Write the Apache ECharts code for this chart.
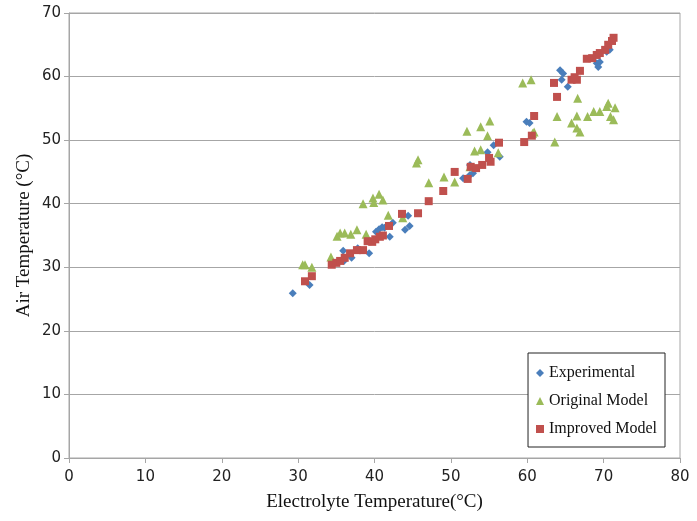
<!DOCTYPE html>
<html>
<head>
<meta charset="utf-8">
<script src="https://cdn.jsdelivr.net/npm/echarts@6/dist/echarts.min.js"></script>
<style>
  html, body { margin: 0; padding: 0; background: #fff; }
  #main { width: 697px; height: 521px; }
</style>
</head>
<body>
<div id="main"></div>
<script>
// values: [electrolyte temp, air temp]
var experimental = [
  [29.3, 25.9], [31.5, 27.2], [34.6, 30.6], [35.3, 31.0], [35.9, 32.6], [36.0, 31.0],
  [37.0, 31.5], [37.8, 33.0], [39.3, 32.2], [40.2, 35.6], [40.6, 36.0], [41.0, 36.3],
  [41.3, 36.2], [42.0, 34.8], [42.4, 37.0], [44.0, 35.9], [44.6, 36.5], [44.4, 38.1],
  [51.6, 44.0], [52.5, 44.5], [52.9, 44.8], [52.5, 46.1], [54.8, 48.1], [55.6, 49.2],
  [56.4, 47.4], [59.9, 52.9], [60.3, 52.7], [64.3, 61.0], [64.7, 60.5], [64.5, 59.5],
  [65.3, 58.4], [69.1, 62.1], [69.5, 62.3], [69.3, 61.5], [70.4, 63.9], [70.8, 64.2]
];
var originalModel = [
  [30.6, 30.4], [30.9, 30.4], [31.8, 30.0], [34.3, 31.6], [35.1, 34.9], [35.5, 35.4],
  [36.1, 35.4], [36.9, 35.2], [37.7, 35.9], [38.9, 35.2], [38.5, 40.0], [39.8, 40.9],
  [39.9, 40.2], [40.6, 41.5], [41.1, 40.6], [41.8, 38.2], [43.7, 37.8], [45.5, 46.4],
  [45.7, 46.9], [47.1, 43.3], [49.1, 44.2], [50.5, 43.4], [52.1, 51.4], [53.9, 52.1],
  [55.1, 53.0], [54.8, 50.7], [53.1, 48.3], [53.9, 48.5], [52.5, 45.8], [56.2, 48.0],
  [60.9, 51.3], [59.4, 59.0], [60.5, 59.5], [66.6, 56.6], [63.9, 53.7], [66.5, 53.8],
  [65.8, 52.7], [66.5, 51.9], [66.9, 51.3], [67.9, 53.7], [68.7, 54.5], [69.5, 54.5],
  [70.4, 55.3], [70.6, 55.8], [71.5, 55.1], [70.9, 53.7], [71.3, 53.2], [60.7, 51.1],
  [63.6, 49.7]
];
var improvedModel = [
  [30.9, 27.8], [31.8, 28.6], [34.4, 30.4], [35.0, 30.7], [35.5, 31.0], [36.1, 31.5],
  [36.8, 32.2], [37.7, 32.7], [38.5, 32.7], [39.1, 34.1], [39.7, 34.0], [40.1, 34.4],
  [40.7, 34.8], [41.1, 35.0], [41.9, 36.5], [43.6, 38.4], [45.7, 38.5], [47.1, 40.4],
  [49.0, 42.0], [50.5, 45.0], [52.2, 43.9], [52.6, 45.8], [53.3, 45.6], [54.1, 46.1],
  [55.0, 47.2], [55.2, 46.6], [56.3, 49.6], [59.6, 49.7], [60.6, 50.7], [60.9, 53.8],
  [63.5, 59.0], [63.9, 56.8], [65.8, 59.5], [66.5, 59.5], [66.2, 59.9], [66.9, 60.9],
  [67.8, 62.8], [68.5, 62.9], [69.1, 63.4], [69.5, 63.7], [70.2, 64.2], [70.6, 65.0],
  [71.1, 65.6], [71.3, 66.1]
];
var seriesNames = ['Experimental', 'Original Model', 'Improved Model'];

var chart = echarts.init(document.getElementById('main'));
var axisGray = '#a6a6a6';
var tickFont = { color: '#222', fontSize: 15, fontFamily: 'DejaVu Sans' };

chart.setOption({
  backgroundColor: '#fff',
  animation: false,
  grid: {
    left: 69, right: 17, top: 13, bottom: 63,
    outerBoundsMode: 'none',
    show: true, borderColor: axisGray, borderWidth: 1
  },
  legend: {
    orient: 'vertical',
    right: 32, bottom: 74,
    itemGap: 12,
    itemWidth: 8, itemHeight: 8,
    padding: [12, 8, 10, 8],
    borderColor: '#222', borderWidth: 1,
    backgroundColor: '#fff',
    textStyle: { fontFamily: 'Liberation Serif', fontSize: 16, color: '#111' },
    data: [
      { name: seriesNames[0], icon: 'diamond' },
      { name: seriesNames[1], icon: 'triangle' },
      { name: seriesNames[2], icon: 'rect' }
    ]
  },
  xAxis: {
    type: 'value', min: 0, max: 80, interval: 10,
    name: 'Electrolyte Temperature(°C)',
    nameLocation: 'middle', nameGap: 35,
    nameTextStyle: { fontFamily: 'Liberation Serif', fontSize: 19, color: '#111' },
    axisLine: { show: true, lineStyle: { color: axisGray } },
    axisTick: { show: true, length: 5, lineStyle: { color: axisGray } },
    axisLabel: Object.assign({ margin: 12 }, tickFont),
    splitLine: { show: false }
  },
  yAxis: {
    type: 'value', min: 0, max: 70, interval: 10,
    name: 'Air Temperature (°C)',
    nameLocation: 'middle', nameGap: 35, nameMoveOverlap: false,
    nameTextStyle: { fontFamily: 'Liberation Serif', fontSize: 19, color: '#111' },
    axisLine: { show: true, lineStyle: { color: axisGray } },
    axisTick: { show: true, length: 5, lineStyle: { color: axisGray } },
    axisLabel: Object.assign({ margin: 8 }, tickFont),
    splitLine: { show: true, lineStyle: { color: axisGray } }
  },
  series: [
    {
      name: seriesNames[0], type: 'scatter', symbol: 'diamond', symbolSize: 8,
      itemStyle: { color: '#4a7ebb', opacity: 1 },
      data: experimental
    },
    {
      name: seriesNames[1], type: 'scatter', symbol: 'triangle', symbolSize: 9,
      itemStyle: { color: '#9bbb59', opacity: 1 },
      data: originalModel
    },
    {
      name: seriesNames[2], type: 'scatter', symbol: 'rect', symbolSize: 8,
      itemStyle: { color: '#c0504d', opacity: 1 },
      data: improvedModel
    }
  ]
});
</script>
</body>
</html>
